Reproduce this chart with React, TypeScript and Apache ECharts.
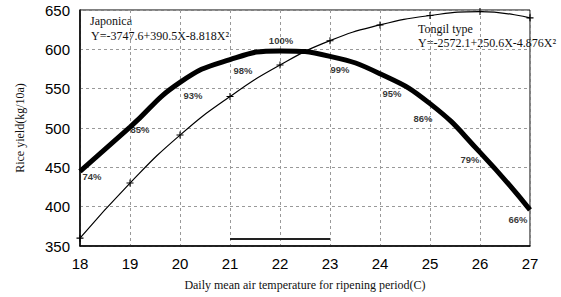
import React, { useEffect, useRef } from "react";
import * as echarts from "echarts";

const temps = [18, 19, 20, 21, 22, 23, 24, 25, 26, 27];
const japonica = [445, 501, 558, 587, 598, 591, 569, 531, 469, 396];
const tongil = [360, 430, 491, 540, 580, 611, 631, 643, 648, 640];
const pctLabels = ["74%", "85%", "93%", "98%", "100%", "99%", "95%", "86%", "79%", "66%"];
const optimumRange = [21, 23];
const optimumLevel = 359;
const japonicaTitle = "Japonica";
const japonicaEq = "Y=-3747.6+390.5X-8.818X²";
const tongilTitle = "Tongil type";
const tongilEq = "Y=-2572.1+250.6X-4.876X²";

const labelOffsets: [number, number][] = [
  [12, 5], [10, 2], [13, 13], [13, 11], [1, -10], [10, 13], [12, 20], [-7, 15], [-10, 7], [-12, 10],
];

export default function App() {
  const ref = useRef<HTMLDivElement>(null);
  useEffect(() => {
    if (!ref.current) return;
    const chart = echarts.init(ref.current, null, { renderer: "svg" });
    const serif = "'Liberation Serif', 'Times New Roman', serif";
    const sans = "'Liberation Sans', Arial, sans-serif";
    const plus =
      "path://M-0.6,-4 L0.6,-4 L0.6,-0.6 L4,-0.6 L4,0.6 L0.6,0.6 L0.6,4 L-0.6,4 L-0.6,0.6 L-4,0.6 L-4,-0.6 L-0.6,-0.6 Z";
    chart.setOption({
      animation: false,
      backgroundColor: "#fff",
      grid: {
        left: 80,
        right: 31,
        top: 10,
        bottom: 51,
        show: true,
        borderColor: "#000",
        borderWidth: 1,
      },
      xAxis: {
        type: "value",
        min: 18,
        max: 27,
        interval: 1,
        name: "Daily mean air temperature for ripening period(C)",
        nameLocation: "middle",
        nameGap: 33,
        nameTextStyle: { fontFamily: serif, fontSize: 12, color: "#111" },
        axisLine: { show: true, lineStyle: { color: "#000", width: 1.5 } },
        axisTick: { show: false },
        axisLabel: { fontFamily: sans, fontSize: 15, color: "#000", margin: 10 },
        splitLine: { show: true, lineStyle: { color: "#999", type: [3, 3], width: 1 } },
      },
      yAxis: {
        type: "value",
        min: 350,
        max: 650,
        interval: 50,
        name: "Rice yield(kg/10a)",
        nameLocation: "middle",
        nameGap: 54,
        nameTextStyle: { fontFamily: serif, fontSize: 12, color: "#111" },
        axisLine: { show: true, lineStyle: { color: "#000", width: 1.5 } },
        axisTick: { show: false },
        axisLabel: { fontFamily: sans, fontSize: 15, color: "#000", margin: 10 },
        splitLine: { show: true, lineStyle: { color: "#999", type: [3, 3], width: 1 } },
      },
      series: [
        {
          type: "line",
          data: temps.map((t, i) => [t, tongil[i]]),
          smooth: true,
          symbol: plus,
          symbolSize: 7,
          itemStyle: { color: "#000" },
          lineStyle: { color: "#000", width: 1.2 },
        },
        {
          type: "line",
          data: temps.map((t, i) => [t, japonica[i]]),
          smooth: true,
          showSymbol: false,
          lineStyle: { color: "#000", width: 5 },
        },
        {
          type: "scatter",
          symbolSize: 0,
          data: temps.map((t, i) => ({
            value: [t, japonica[i]],
            label: {
              show: true,
              formatter: pctLabels[i],
              position: "inside",
              offset: labelOffsets[i],
            },
          })),
          label: {
            fontFamily: sans,
            fontSize: 9.5,
            fontWeight: "bold",
            color: "#000",
          },
        },
        {
          type: "line",
          data: optimumRange.map((t) => [t, optimumLevel]),
          showSymbol: false,
          lineStyle: { color: "#222", width: 2 },
        },
      ],
      graphic: [
        { type: "text", left: 90, top: 15, style: { text: japonicaTitle, font: `12px ${serif}`, fill: "#111" } },
        { type: "text", left: 91, top: 30, style: { text: japonicaEq, font: `12px ${serif}`, fill: "#111" } },
        { type: "text", left: 418, top: 23, style: { text: tongilTitle, font: `12px ${serif}`, fill: "#111" } },
        { type: "text", left: 418, top: 37, style: { text: tongilEq, font: `12px ${serif}`, fill: "#111" } },
      ],
    });
    return () => chart.dispose();
  }, []);
  return (
    <div
      ref={ref}
      style={{ position: "absolute", left: 0, top: 0, width: 561, height: 297 }}
    />
  );
}
